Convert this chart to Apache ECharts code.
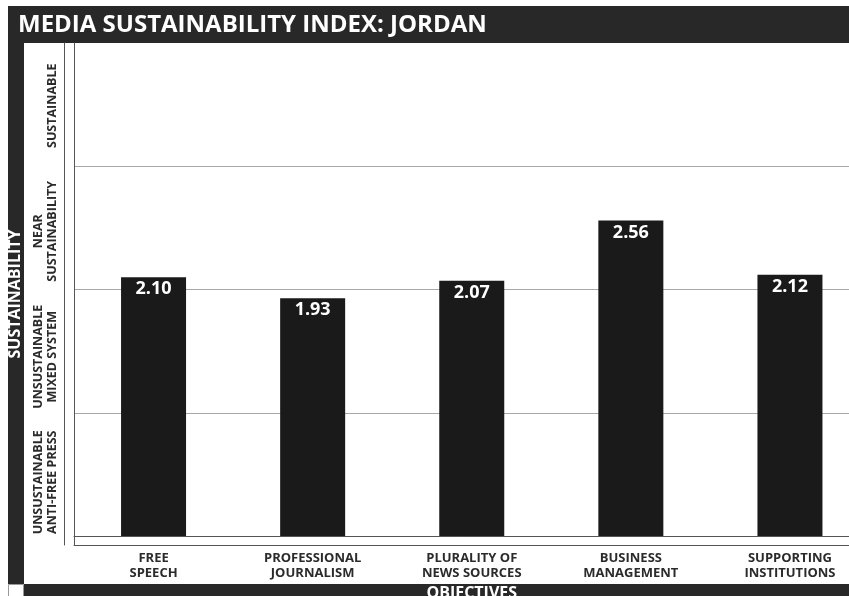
<!DOCTYPE html>
<html>
<head>
<meta charset="utf-8">
<script src="https://cdn.jsdelivr.net/npm/echarts@6/dist/echarts.min.js"></script>
<style>
html,body{margin:0;padding:0;background:#fff;}
#chart{width:849px;height:596px;}
</style>
</head>
<body>
<div id="chart"></div>
<script>
const titleText = 'MEDIA SUSTAINABILITY INDEX: JORDAN';
const categories = ['FREE\nSPEECH', 'PROFESSIONAL\nJOURNALISM', 'PLURALITY OF\nNEWS SOURCES', 'BUSINESS\nMANAGEMENT', 'SUPPORTING\nINSTITUTIONS'];
const scores = [2.10, 1.93, 2.07, 2.56, 2.12];
const levelLabels = ['UNSUSTAINABLE\nANTI-FREE PRESS', 'UNSUSTAINABLE\nMIXED SYSTEM', 'NEAR\nSUSTAINABILITY', 'SUSTAINABLE'];
const yAxisName = 'SUSTAINABILITY';
const xAxisName = 'OBJECTIVES';

const FONT = '"Open Sans", "Noto Sans", sans-serif';
const chart = echarts.init(document.getElementById('chart'), null, {renderer: 'canvas'});

chart.setOption({
  animation: false,
  backgroundColor: '#ffffff',
  title: {
    text: titleText,
    left: 13,
    top: 8,
    textStyle: {color: '#ffffff', fontSize: 24, fontWeight: 'bold', fontFamily: FONT}
  },
  graphic: [
    {type: 'rect', z: -10, shape: {x: 8, y: 6, width: 841, height: 37}, style: {fill: '#282828'}},
    {type: 'rect', z: -10, shape: {x: 8, y: 6, width: 16, height: 578}, style: {fill: '#282828'}},
    {type: 'rect', z: -10, shape: {x: 24, y: 584, width: 825, height: 12}, style: {fill: '#282828'}},
    {type: 'rect', z: -10, shape: {x: 8.5, y: 584.5, width: 15, height: 12}, style: {fill: '#ffffff', stroke: '#999', lineWidth: 1}}
  ],
  grid: {left: 74, top: 43, width: 795.5, height: 502, containLabel: false, outerBoundsMode: 'none'},
  xAxis: [
    {
      type: 'category',
      data: categories,
      axisLine: {show: true, onZero: true, onZeroAxisIndex: 0, lineStyle: {color: '#555', width: 1}},
      axisTick: {show: false},
      axisLabel: {interval: 0, margin: 6, color: '#2b2b2b', fontSize: 13, lineHeight: 15, fontWeight: 'bold', fontFamily: FONT},
      z: 5
    },
    {
      type: 'category',
      data: categories,
      position: 'bottom',
      axisLine: {show: true, onZero: false, lineStyle: {color: '#555', width: 1}},
      axisTick: {show: false},
      axisLabel: {show: false},
      name: xAxisName,
      nameLocation: 'middle',
      nameGap: 40,
      nameTextStyle: {color: '#ffffff', fontSize: 16, fontWeight: 'bold', fontFamily: FONT},
      z: 5
    }
  ],
  yAxis: [
    {
      type: 'value',
      min: -0.073,
      max: 4,
      splitNumber: 4,
      axisLine: {show: true, lineStyle: {color: '#555', width: 1}},
      axisTick: {show: false},
      axisLabel: {show: false},
      splitLine: {show: true, showMaxLine: false, lineStyle: {color: '#a8a8a8', width: 1}}
    },
    {
      type: 'category',
      data: levelLabels,
      position: 'left',
      offset: 10,
      axisLine: {show: true, lineStyle: {color: '#555', width: 1}},
      axisTick: {show: false},
      splitLine: {show: false},
      axisLabel: {interval: 0, rotate: 90, margin: 5, color: '#2b2b2b', fontSize: 12.5, lineHeight: 14, fontWeight: 'bold', fontFamily: FONT},
      name: yAxisName,
      nameLocation: 'middle',
      nameGap: 41,
      nameTextStyle: {color: '#ffffff', fontSize: 16, fontWeight: 'bold', fontFamily: FONT},
      z: 10
    }
  ],
  series: [
    {
      type: 'bar',
      xAxisIndex: 0,
      yAxisIndex: 0,
      data: scores,
      barWidth: 65,
      itemStyle: {color: '#1a1a1a'},
      label: {
        show: true,
        position: 'insideTop',
        distance: 3,
        color: '#ffffff',
        fontSize: 18,
        fontWeight: 'bold',
        fontFamily: FONT,
        formatter: p => p.value.toFixed(2)
      }
    }
  ]
});
</script>
</body>
</html>
